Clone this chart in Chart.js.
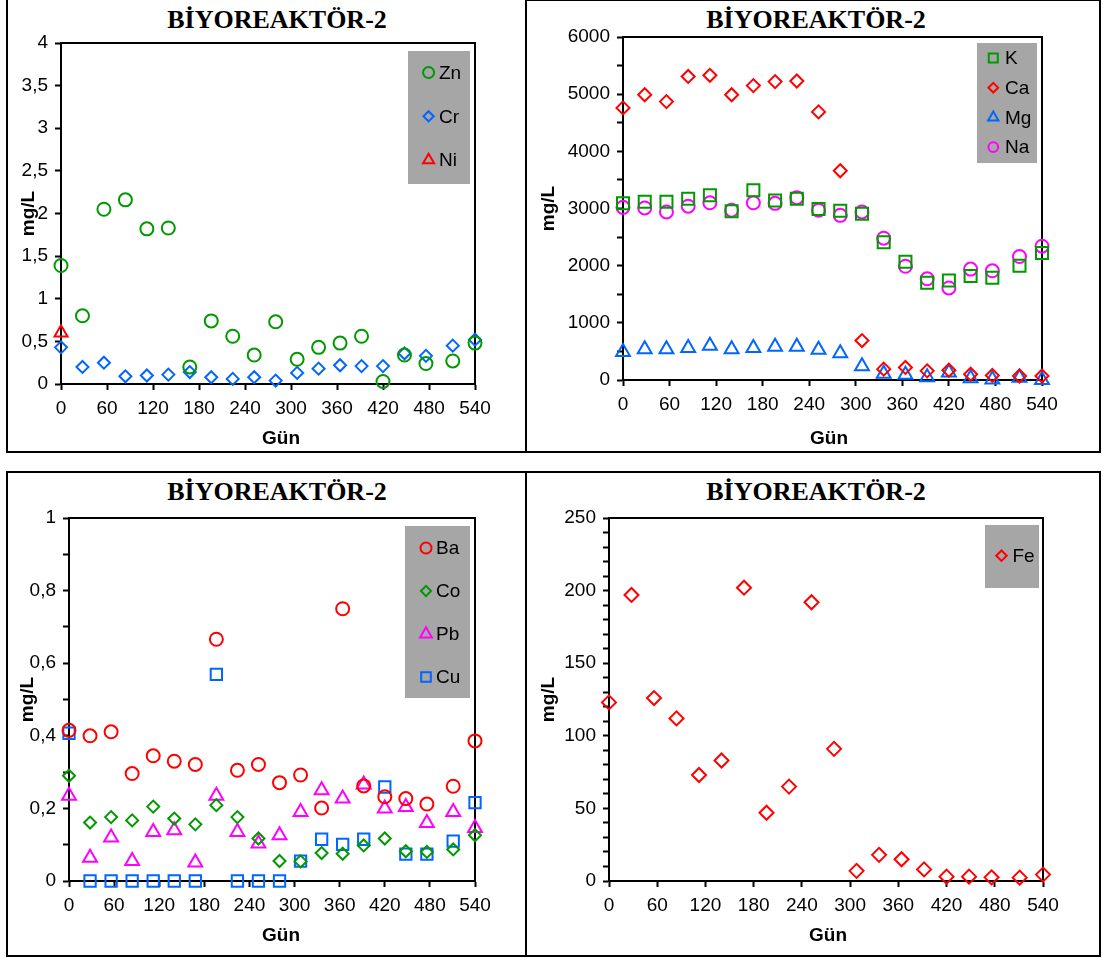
<!DOCTYPE html>
<html lang="tr">
<head>
<meta charset="utf-8">
<title>BİYOREAKTÖR-2</title>
<script src="https://cdn.jsdelivr.net/npm/chart.js@4/dist/chart.umd.min.js"></script>
<style>
  html, body { margin: 0; padding: 0; background: #fff; }
  body { width: 1103px; height: 958px; position: relative; overflow: hidden; }
  .panel { position: absolute; box-sizing: border-box; border: 2px solid #000; }
  canvas { position: absolute; }
  .title, .xlabel {
    position: absolute; transform: translate(-50%, -50%);
    line-height: 1; white-space: nowrap; color: #000;
  }
  .title { font: bold 26px "Liberation Serif", "Times New Roman", serif; }
  .xlabel { font: bold 19px "Liberation Sans", Arial, sans-serif; z-index: 1; }
</style>
</head>
<body>
<div class="panel" style="left:6px;top:-2px;width:521px;height:455px"></div>
<div class="panel" style="left:525px;top:-1px;width:576px;height:454px"></div>
<div class="panel" style="left:6px;top:471px;width:521px;height:486px"></div>
<div class="panel" style="left:525px;top:471px;width:576px;height:486px"></div>

<div class="title" style="left:277px;top:19.5px">BİYOREAKTÖR-2</div>
<div class="title" style="left:816px;top:19.5px">BİYOREAKTÖR-2</div>
<div class="title" style="left:277px;top:492px">BİYOREAKTÖR-2</div>
<div class="title" style="left:816px;top:492px">BİYOREAKTÖR-2</div>

<canvas id="c1" width="517" height="451" style="left:8px;top:0px"></canvas>
<canvas id="c2" width="572" height="450" style="left:527px;top:1px"></canvas>
<canvas id="c3" width="517" height="482" style="left:8px;top:473px"></canvas>
<canvas id="c4" width="572" height="482" style="left:527px;top:473px"></canvas>

<div class="xlabel" style="left:281px;top:437.5px">Gün</div>
<div class="xlabel" style="left:829px;top:437.5px">Gün</div>
<div class="xlabel" style="left:281px;top:935px">Gün</div>
<div class="xlabel" style="left:828px;top:935px">Gün</div>

<script>
// Sampling days (Gün)
const days = [0, 28, 56, 84, 112, 140, 168, 196, 224, 252, 280, 308, 336, 364, 392, 420, 448, 476, 511, 540];
const dayTicks = [0, 60, 120, 180, 240, 300, 360, 420, 480, 540];

// Trace metals, mg/L
const zn = [1.39, 0.80, 2.05, 2.16, 1.82, 1.83, 0.20, 0.74, 0.56, 0.34, 0.73, 0.29, 0.43, 0.48, 0.56, 0.03, 0.34, 0.24, 0.27, 0.48];
const cr = [0.43, 0.20, 0.25, 0.09, 0.10, 0.11, 0.14, 0.08, 0.06, 0.08, 0.04, 0.13, 0.18, 0.22, 0.21, 0.21, 0.36, 0.33, 0.45, 0.52];
const ni = [0.60, null, null, null, null, null, null, null, null, null, null, null, null, null, null, null, null, null, null, null];
const yTicks1 = [0, 0.5, 1, 1.5, 2, 2.5, 3, 3.5, 4];

// Major cations, mg/L
const k  = [3090, 3120, 3120, 3170, 3230, 2950, 3320, 3140, 3170, 2990, 2960, 2910, 2410, 2070, 1700, 1740, 1820, 1790, 2000, 2220];
const ca = [4760, 4990, 4870, 5310, 5330, 4990, 5150, 5220, 5230, 4690, 3660, 690, 190, 220, 160, 170, 100, 80, 70, 70];
const mg = [490, 540, 540, 560, 600, 540, 560, 580, 580, 530, 470, 240, 110, 90, 50, 130, 30, 10, 40, 0];
const na = [3020, 3010, 2940, 3040, 3100, 2970, 3100, 3090, 3190, 2970, 2880, 2940, 2480, 1990, 1770, 1610, 1940, 1910, 2160, 2340];
const yTicks2 = [0, 1000, 2000, 3000, 4000, 5000, 6000];

// Other metals, mg/L
const ba = [0.415, 0.400, 0.411, 0.296, 0.345, 0.330, 0.321, 0.666, 0.305, 0.321, 0.271, 0.292, 0.201, 0.750, 0.262, 0.232, 0.227, 0.212, 0.261, 0.386];
const co = [0.290, 0.161, 0.176, 0.167, 0.205, 0.172, 0.156, 0.209, 0.176, 0.117, 0.055, 0.054, 0.077, 0.075, 0.098, 0.117, 0.082, 0.080, 0.087, 0.126];
const pb = [0.235, 0.064, 0.120, 0.055, 0.135, 0.140, 0.051, 0.235, 0.135, 0.103, 0.126, 0.190, 0.250, 0.227, 0.266, 0.200, 0.204, 0.160, 0.190, 0.146];
const cu = [0.407, 0, 0, 0, 0, 0, 0, 0.569, 0, 0, 0, 0.055, 0.115, 0.101, 0.115, 0.259, 0.074, 0.074, 0.110, 0.216];
const yTicks3 = [0, 0.2, 0.4, 0.6, 0.8, 1];

// Iron, mg/L
const fe = [123, 197, 126, 112, 73, 83, 202, 47, 65, 192, 91, 7, 18, 15, 8, 3, 3, 2.5, 2.3, 4.4];
const yTicks4 = [0, 50, 100, 150, 200, 250];

const FONT = '"Liberation Sans", Arial, sans-serif';
const fmt = v => String(v).replace('.', ',');
const points = values => days.map((d, i) => ({ x: d, y: values[i] })).filter(p => p.y !== null);
function steps(min, max, step) {
  const out = [];
  const n = Math.round((max - min) / step);
  for (let i = 0; i <= n; i++) out.push(+(min + i * step).toFixed(6));
  return out;
}

// Closed box around the plot area
const plotFrame = {
  id: 'plotFrame',
  beforeDatasetsDraw(chart) {
    const { ctx, chartArea: a } = chart;
    ctx.save();
    ctx.strokeStyle = '#000';
    ctx.lineWidth = 2;
    ctx.strokeRect(a.left, a.top, a.right - a.left, a.bottom - a.top);
    ctx.restore();
  }
};

// Grey legend panel drawn inside the plot area, top right
const boxLegend = {
  id: 'boxLegend',
  afterDraw(chart, args, o) {
    const { ctx, chartArea: a } = chart;
    const x0 = a.right - o.right - o.width;
    const y0 = a.top + o.top;
    ctx.save();
    ctx.fillStyle = '#a6a6a6';
    ctx.fillRect(x0, y0, o.width, o.height);
    ctx.font = '19px ' + FONT;
    ctx.textBaseline = 'middle';
    ctx.textAlign = 'left';
    chart.data.datasets.forEach((ds, i) => {
      const y = y0 + o.first + i * o.gap;
      ctx.strokeStyle = ds.borderColor;
      ctx.fillStyle = 'rgba(0,0,0,0)';
      ctx.lineWidth = 2;
      Chart.helpers.drawPoint(ctx, {
        pointStyle: ds.pointStyle, radius: ds.pointRadius * o.markerScale, rotation: 0, borderWidth: 2
      }, x0 + o.markerX, y);
      ctx.fillStyle = '#000';
      ctx.fillText(ds.label, x0 + o.textX, y + 1);
    });
    ctx.restore();
  }
};

function makeChart(id, cfg) {
  const yAll = cfg.yMinor ? steps(cfg.yMin, cfg.yMax, cfg.yMinor) : cfg.yTicks;
  const grid = { display: true, drawOnChartArea: false, drawTicks: true, tickLength: 6, tickColor: '#000', tickWidth: 2 };
  const border = { display: true, color: '#000', width: 2 };
  const tickFont = { family: FONT, size: 19 };
  const axisTitleFont = { family: FONT, size: 19, weight: 'bold' };
  return new Chart(document.getElementById(id), {
    type: 'scatter',
    data: {
      datasets: cfg.series.map(s => ({
        label: s.label,
        data: points(s.values),
        pointStyle: s.style,
        pointRadius: s.radius,
        pointHoverRadius: s.radius,
        borderColor: s.color,
        backgroundColor: 'rgba(0,0,0,0)',
        pointBorderWidth: 2,
        pointHoverBorderWidth: 2,
        showLine: false,
        clip: false
      }))
    },
    options: {
      responsive: false,
      animation: false,
      devicePixelRatio: 1,
      events: [],
      layout: { padding: cfg.padding },
      plugins: {
        legend: { display: false },
        tooltip: { enabled: false },
        boxLegend: cfg.legend
      },
      scales: {
        x: {
          type: 'linear', min: 0, max: 540,
          afterBuildTicks: s => { s.ticks = dayTicks.map(v => ({ value: v })); },
          afterFit: s => { s.height = cfg.xHeight; },
          ticks: { font: tickFont, color: '#000', padding: 7, autoSkip: false, maxRotation: 0, callback: v => fmt(v) },
          grid, border
        },
        y: {
          type: 'linear', min: cfg.yMin, max: cfg.yMax,
          afterBuildTicks: s => { s.ticks = yAll.map(v => ({ value: v })); },
          afterFit: s => { s.width = cfg.yWidth; },
          ticks: {
            font: tickFont, color: '#000', padding: 7, autoSkip: false,
            callback: v => cfg.yTicks.some(t => Math.abs(t - v) < 1e-9) ? fmt(v) : ''
          },
          grid, border,
          title: { display: true, text: 'mg/L', color: '#000', font: axisTitleFont, padding: { top: cfg.yTitlePad, bottom: 0 } }
        }
      }
    },
    plugins: [plotFrame, boxLegend]
  });
}

makeChart('c1', {
  yMin: 0, yMax: 4, yTicks: yTicks1, yMinor: null,
  padding: { left: 0, top: 43, right: 50, bottom: 0 }, yWidth: 53, xHeight: 67, yTitlePad: 9,
  legend: { right: 5, top: 8, width: 62, height: 133, first: 21.5, gap: 43.8, markerX: 20.6, textX: 31, markerScale: 0.85 },
  series: [
    { label: 'Zn', values: zn, style: 'circle', radius: 6.5, color: '#009900' },
    { label: 'Cr', values: cr, style: 'rectRot', radius: 6, color: '#0066ff' },
    { label: 'Ni', values: ni, style: 'triangle', radius: 7.5, color: '#ff0000' }
  ]
});

makeChart('c2', {
  yMin: 0, yMax: 6000, yTicks: yTicks2, yMinor: 500,
  padding: { left: 0, top: 36, right: 57, bottom: 0 }, yWidth: 96, xHeight: 71, yTitlePad: 10,
  legend: { right: 5, top: 6, width: 60, height: 120, first: 15, gap: 29.7, markerX: 16.3, textX: 28, markerScale: 0.75 },
  series: [
    { label: 'K', values: k, style: 'rect', radius: 8.5, color: '#009900' },
    { label: 'Ca', values: ca, style: 'rectRot', radius: 6.5, color: '#ff0000' },
    { label: 'Mg', values: mg, style: 'triangle', radius: 8, color: '#0066ff' },
    { label: 'Na', values: na, style: 'circle', radius: 6.5, color: '#ff00ff' }
  ]
});

makeChart('c3', {
  yMin: 0, yMax: 1, yTicks: yTicks3, yMinor: 0.1,
  padding: { left: 0, top: 45, right: 50, bottom: 0 }, yWidth: 61, xHeight: 74, yTitlePad: 8,
  legend: { right: 5, top: 8, width: 65, height: 172, first: 22, gap: 43, markerX: 21, textX: 31, markerScale: 0.85 },
  series: [
    { label: 'Ba', values: ba, style: 'circle', radius: 6.5, color: '#ff0000' },
    { label: 'Co', values: co, style: 'rectRot', radius: 6, color: '#009900' },
    { label: 'Pb', values: pb, style: 'triangle', radius: 8, color: '#ff00ff' },
    { label: 'Cu', values: cu, style: 'rect', radius: 8, color: '#0066ff' }
  ]
});

makeChart('c4', {
  yMin: 0, yMax: 250, yTicks: yTicks4, yMinor: 10,
  padding: { left: 0, top: 45, right: 56, bottom: 0 }, yWidth: 82, xHeight: 74, yTitlePad: 10.5,
  legend: { right: 4, top: 7, width: 54, height: 63, first: 30.7, gap: 0, markerX: 16.5, textX: 27.5, markerScale: 0.75 },
  series: [
    { label: 'Fe', values: fe, style: 'rectRot', radius: 7, color: '#ff0000' }
  ]
});
</script>
</body>
</html>
